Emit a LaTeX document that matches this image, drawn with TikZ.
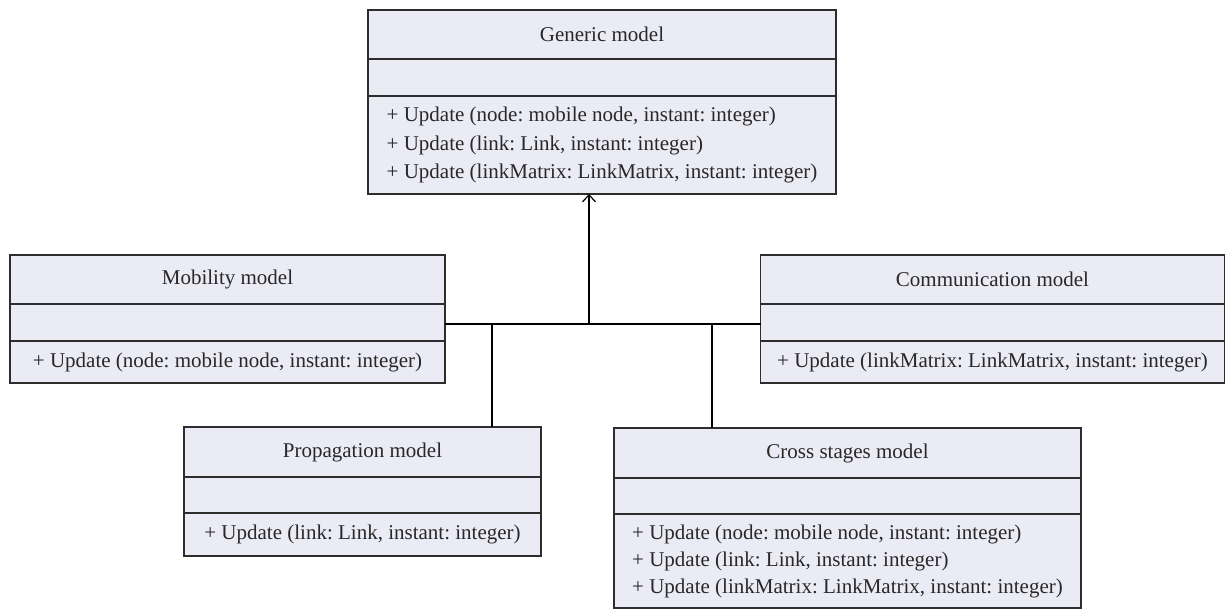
\documentclass[tikz,border=0pt]{standalone}
\usepackage{fontspec}
\setmainfont{Liberation Serif}
\usetikzlibrary{arrows.meta}
\frenchspacing
\definecolor{boxfill}{RGB}{235,235,246}
\definecolor{linec}{RGB}{45,45,45}
\definecolor{txtc}{RGB}{40,40,40}
\newcommand\umlfont{\fontsize{21}{28.5}\selectfont\frenchspacing}
\newcommand\umlfontb{\fontsize{21}{27}\selectfont\frenchspacing}
\tikzset{
  comp/.style={draw=linec, fill=boxfill, line width=1.2pt, inner sep=0pt, outer sep=0pt,
    anchor=north west, font=\umlfont, text=txtc, align=center},
  conn/.style={draw=black, line width=1.2pt},
  inherit/.style={conn, -{Straight Barb[length=7pt,width=13pt,line width=1.2pt]}}
}
\begin{document}
\begin{tikzpicture}[x=1pt,y=-1pt]
\useasboundingbox (0,0) rectangle (1226,610);
% Generic model
\node[comp, minimum width=468, minimum height=49] (gen) at (368,10) {Generic model};
\node[comp, minimum width=468, minimum height=37] (gen-a) at (368,59) {};
\node[comp, minimum width=468, minimum height=98, align=left] (gen-m) at (368,96)
  {+ Update (node: mobile node, instant: integer)\\
   + Update (link: Link, instant: integer)\\
   + Update (linkMatrix: LinkMatrix, instant: integer)};
% Mobility model
\node[comp, minimum width=435, minimum height=49] (mob) at (10,255) {Mobility model};
\node[comp, minimum width=435, minimum height=37] (mob-a) at (10,304) {};
\node[comp, minimum width=435, minimum height=42] (mob-m) at (10,341)
  {+ Update (node: mobile node, instant: integer)};
% Communication model
\node[comp, minimum width=464, minimum height=49] (com) at (760.5,255) {Communication model};
\node[comp, minimum width=464, minimum height=37] (com-a) at (760.5,304) {};
\node[comp, minimum width=464, minimum height=42] (com-m) at (760.5,341)
  {+ Update (linkMatrix: LinkMatrix, instant: integer)};
% Propagation model
\node[comp, minimum width=357, minimum height=50] (prop) at (184,427) {Propagation model};
\node[comp, minimum width=357, minimum height=36] (prop-a) at (184,477) {};
\node[comp, minimum width=357, minimum height=43] (prop-m) at (184,513)
  {+ Update (link: Link, instant: integer)};
% Cross stages model
\node[comp, minimum width=467, minimum height=50] (cross) at (614,428) {Cross stages model};
\node[comp, minimum width=467, minimum height=36] (cross-a) at (614,478) {};
\node[comp, minimum width=467, minimum height=94, align=left, font=\umlfontb] (cross-m) at (614,514)
  {+ Update (node: mobile node, instant: integer)\\
   + Update (link: Link, instant: integer)\\
   + Update (linkMatrix: LinkMatrix, instant: integer)};
% connectors
\coordinate (j) at (589,324);
\coordinate (jp) at (492,324);
\coordinate (jc) at (712,324);
\draw[conn] (j -| mob-a.east) -- (j -| com-a.west);
\draw[inherit] (j) -- (j |- gen-m.south);
\draw[conn] (jp) -- (jp |- prop.north);
\draw[conn] (jc) -- (jc |- cross.north);
\end{tikzpicture}
\end{document}
